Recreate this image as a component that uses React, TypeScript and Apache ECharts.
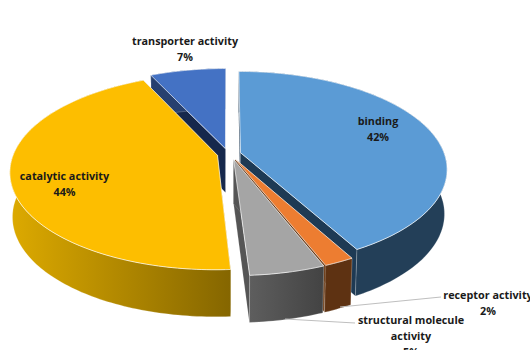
import React, { useEffect, useRef } from "react";
import * as echarts from "echarts";

// Molecular-function share of each category, clockwise from twelve o'clock.
const categories = ["binding", "receptor activity", "structural molecule activity", "catalytic activity", "transporter activity"];
const shares = [42, 2, 5, 44, 7];
// Back slices first so that nearer slices cover them.
const paintOrder = [4, 0, 1, 2, 3];

const topColors = ["#5B9BD5", "#ED7D31", "#A5A5A5", "#FDBE00", "#4472C4"];
const wallColors = ["#233F58", "#5E3212", "#4A4A4A", "#B08600", "#27406F"];
const cutColors = ["#1E3A54", "#6B3A14", "#555555", "#8A6A00", "#16284C"];
// Small sideways shift of each pulled-out slice.
const sliceShift = [1, 2, 3, 1, 0];

// Projection of the tilted disc.
const CX = 228, CY = 154, RX = 204, RY = 95, PERSP = 0.165, EXPLODE = 0.058;
const SHRINK = 0.988;

function project(u: number, v: number, low: boolean, shift: number): number[] {
  const f = 1 / (1 - PERSP * v);
  let x = CX + RX * u * f;
  let y = CY + RY * v * f;
  if (low) {
    x = CX + (x - CX) * SHRINK;
    y += 44 + 3 * v;
  }
  return [x + shift, y];
}

const total = shares.reduce((a, b) => a + b, 0);
const startAngles = shares.map((_, i) => (shares.slice(0, i).reduce((a, b) => a + b, 0) / total) * Math.PI * 2);

function renderSlice(_params: any, api: any) {
  const idx = api.value(0) as number;
  const share = api.value(1) as number;
  const a0 = startAngles[idx];
  const a1 = a0 + (share / total) * Math.PI * 2;
  const mid = (a0 + a1) / 2;
  const ou = EXPLODE * Math.sin(mid);
  const ov = -EXPLODE * Math.cos(mid);
  const shift = sliceShift[idx];
  const rim = (t: number, low: boolean) => project(ou + Math.sin(t), ov - Math.cos(t), low, shift);
  const hub = (low: boolean) => project(ou, ov, low, shift);

  const steps = Math.max(6, Math.ceil((a1 - a0) / 0.02));
  const angles: number[] = [];
  for (let s = 0; s <= steps; s++) angles.push(a0 + ((a1 - a0) * s) / steps);
  const topArc = angles.map((t) => rim(t, false));
  const lowArc = angles.map((t) => rim(t, true));

  const cut = (t: number) => ({
    type: "polygon",
    shape: { points: [hub(false), rim(t, false), rim(t, true), hub(true)] },
    style: { fill: cutColors[idx], stroke: "rgba(255,255,255,0.25)", lineWidth: 0.5 },
  });

  let wallFill: any = wallColors[idx];
  if (idx === 3) {
    wallFill = new echarts.graphic.LinearGradient(0, 0, 1, 0, [
      { offset: 0, color: "#DDAA00" },
      { offset: 1, color: "#856600" },
    ]);
  } else if (idx === 2) {
    wallFill = new echarts.graphic.LinearGradient(0, 0, 1, 0, [
      { offset: 0, color: "#5E5E5E" },
      { offset: 1, color: "#434343" },
    ]);
  }

  return {
    type: "group",
    children: [
      cut(a1),
      cut(a0),
      {
        type: "polygon",
        shape: { points: [...topArc, ...lowArc.slice().reverse()] },
        style: { fill: wallFill, stroke: "rgba(255,255,255,0.35)", lineWidth: 0.6 },
      },
      {
        type: "polygon",
        shape: { points: [hub(false), ...topArc] },
        style: { fill: topColors[idx], stroke: "rgba(255,255,255,0.65)", lineWidth: 1 },
      },
    ],
  };
}

const labelFont = { fontFamily: "'Open Sans', sans-serif", fontWeight: 700, fontSize: 10.8, lineHeight: 16, fill: "#1a1a1a", align: "center" as const, verticalAlign: "middle" as const };

function label(text: string, x: number, y: number) {
  return { type: "text", x, y, z: 10, style: { ...labelFont, text } };
}

function leader(points: number[][]) {
  return { type: "polyline", z: 5, shape: { points }, style: { stroke: "#BFBFBF", lineWidth: 1.2, fill: "none" } };
}

export default function App() {
  const ref = useRef<HTMLDivElement>(null);
  useEffect(() => {
    document.body.style.margin = "0";
    const chart = echarts.init(ref.current!, undefined, { renderer: "svg" });
    chart.setOption({
      animation: false,
      backgroundColor: "#ffffff",
      series: [
        {
          type: "custom",
          coordinateSystem: "none",
          renderItem: renderSlice,
          data: paintOrder.map((i) => [i, shares[i]]),
          silent: true,
        },
      ],
      graphic: [
        leader([[340, 307], [441, 297]]),
        leader([[285, 319], [355, 323]]),
        label(`${categories[4]}\n${shares[4]}%`, 185, 48),
        label(`${categories[0]}\n${shares[0]}%`, 378, 128),
        label(`${categories[3]}\n${shares[3]}%`, 64.5, 183.5),
        label(`${categories[1]}\n${shares[1]}%`, 488, 302),
        label(`structural molecule\nactivity\n${shares[2]}%`, 411, 335),
      ],
    });
    return () => chart.dispose();
  }, []);
  return <div ref={ref} style={{ width: 530, height: 350 }} />;
}
